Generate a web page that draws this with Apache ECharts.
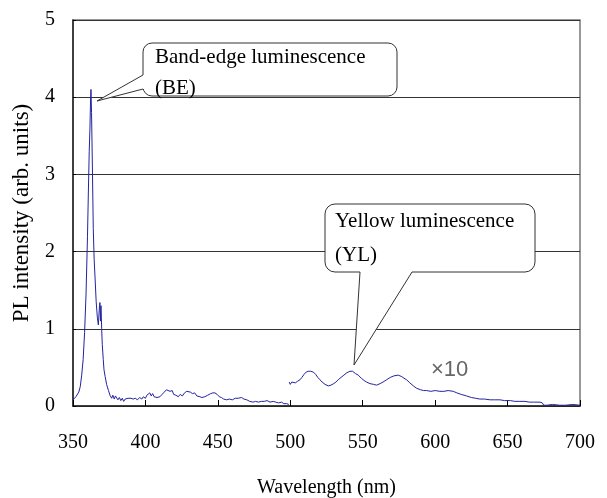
<!DOCTYPE html>
<html>
<head>
<meta charset="utf-8">
<script src="https://cdn.jsdelivr.net/npm/echarts@6/dist/echarts.min.js"></script>
<style>
html,body{margin:0;padding:0;background:#fff;}
#c{width:607px;height:498px;}
</style>
</head>
<body>
<div id="c"></div>
<script>
// Band-edge + defect region (as measured)
var wavelengthMain = [350,352,354,355,356,357,358,359,360,360.6,361.2,361.7,362.1,362.4,362.8,363.3,364,364.6,365.2,366,366.8,367.5,368,368.3,368.6,369,369.3,369.8,370.2,370.9,371.4,372.2,373.2,374.5,375.5,376.7,377.5,378.5,379.3,380.1,381,382,383,384,385,386,387,388,389,390,391.6,393,394.5,396,397.5,398.5,400,401,402,403,404,405,406,407,408,410,411.5,413,414.5,415.8,417,418.5,419.5,421,422.7,424,425.5,427,428.5,429.6,431,432.5,434,435.5,437.6,439,441,443,445,446.5,448,449.5,451,452.5,454,456,458,460,462,464,466.4,468,470,472,474.4,476,478,480,482,484,486,488.2,490,492,494,495.5,497.5,499];
var intensityMain = [0.08,0.12,0.18,0.25,0.4,0.6,0.95,1.45,2.2,2.76,3.3,3.6,3.95,4.1,3.8,3.2,2.3,1.9,1.67,1.35,1.15,1.05,1.07,1.3,1.34,1.1,1.3,1.0,0.8,0.6,0.47,0.38,0.28,0.2,0.14,0.1,0.14,0.09,0.13,0.12,0.08,0.11,0.07,0.1,0.06,0.09,0.07,0.1,0.08,0.1,0.09,0.1,0.08,0.11,0.09,0.12,0.1,0.14,0.12,0.17,0.13,0.16,0.12,0.14,0.11,0.12,0.15,0.18,0.21,0.23,0.19,0.2,0.15,0.14,0.12,0.15,0.13,0.17,0.19,0.2,0.18,0.16,0.17,0.13,0.12,0.11,0.12,0.14,0.16,0.17,0.17,0.15,0.12,0.11,0.09,0.08,0.09,0.08,0.1,0.1,0.11,0.09,0.08,0.06,0.05,0.06,0.05,0.06,0.06,0.07,0.05,0.06,0.05,0.04,0.05,0.03,0.03,0.02];

// Yellow luminescence region, shown x10
var wavelengthYL = [499.3,500,501,502,503.5,505,506.7,508,509.5,511,512.4,514,515.9,517.5,519,520.5,522,524,526.2,528,530,531.5,533.1,535,537,539,541.2,543,545,546.9,549,551,552.7,555,557.5,559.6,562,564,566.5,569,571.5,574.5,577,578.5,580.3,582.5,585,587.2,590,592,594.1,597,600,603.3,606,609,612.5,615,618,621.7,625,628,630.9,634,638,641,644.7,648,652,655,658.5,662,665,668,672.4,674,675,677,681,686,690,695,700];
var intensityYL = [0.31,0.28,0.31,0.29,0.3,0.32,0.34,0.37,0.41,0.44,0.45,0.45,0.44,0.41,0.37,0.34,0.31,0.28,0.26,0.27,0.29,0.31,0.34,0.37,0.4,0.43,0.45,0.45,0.42,0.4,0.36,0.33,0.31,0.29,0.28,0.27,0.29,0.31,0.34,0.37,0.39,0.4,0.38,0.36,0.34,0.3,0.26,0.23,0.21,0.2,0.2,0.19,0.2,0.19,0.19,0.2,0.19,0.17,0.15,0.13,0.11,0.1,0.09,0.09,0.08,0.08,0.08,0.07,0.07,0.06,0.06,0.06,0.05,0.05,0.05,0.04,0.01,0.01,0.02,0.01,0.01,0.02,0.01];

var xTicks = [350,400,450,500,550,600,650,700];
var yTicks = [0,1,2,3,4,5];

function pairs(xs, ys){ return xs.map(function(x,i){ return [x, ys[i]]; }); }

var serif = "'Liberation Serif','Times New Roman',serif";
var calloutFont = "21px 'Liberation Serif'";
var chart = echarts.init(document.getElementById('c'));
chart.setOption({
  animation: false,
  backgroundColor: '#fff',
  grid: {left: 73, right: 27, top: 20, bottom: 92, containLabel: false, outerBoundsMode: 'none',
         show: true, borderColor: '#777', borderWidth: 1.5},
  xAxis: {
    type: 'value', min: xTicks[0], max: xTicks[xTicks.length-1], interval: 50,
    name: 'Wavelength (nm)', nameLocation: 'middle', nameGap: 72,
    nameTextStyle: {fontFamily: serif, fontSize: 20, color: '#000'},
    axisLine: {show: true, lineStyle: {color: '#222', width: 1.5}},
    axisTick: {show: true, inside: true, length: 6, lineStyle: {color: '#000'}},
    axisLabel: {fontFamily: serif, fontSize: 20, color: '#000', margin: 27},
    splitLine: {show: false}
  },
  yAxis: {
    type: 'value', min: yTicks[0], max: yTicks[yTicks.length-1], interval: 1,
    name: 'PL intensity (arb. units)', nameLocation: 'middle', nameGap: 40,
    nameTextStyle: {fontFamily: serif, fontSize: 23, color: '#000'},
    axisLine: {show: true, lineStyle: {color: '#222', width: 1.5}},
    axisTick: {show: true, inside: true, length: 3, lineStyle: {color: '#000'}},
    axisLabel: {fontFamily: serif, fontSize: 20, color: '#000', margin: 18},
    splitLine: {show: true, lineStyle: {color: '#333', width: 1}}
  },
  series: [
    {type: 'line', data: pairs(wavelengthMain, intensityMain), showSymbol: false, symbol: 'none',
     lineStyle: {color: '#2323a0', width: 1}, z: 3},
    {type: 'line', data: pairs(wavelengthYL, intensityYL), showSymbol: false, symbol: 'none',
     lineStyle: {color: '#2323a0', width: 1}, z: 3}
  ],
  graphic: [
    // Band-edge callout
    {type: 'rect', z: 20, shape: {x: 143, y: 43, width: 254, height: 53, r: 9},
     style: {fill: '#fff', stroke: '#333', lineWidth: 1}},
    {type: 'polygon', z: 21, shape: {points: [[143,75],[97,101],[143,89],[146,89],[146,75]]},
     style: {fill: '#fff', stroke: null}},
    {type: 'polyline', z: 22, shape: {points: [[143,75],[97,101],[143,89]]},
     style: {fill: null, stroke: '#333', lineWidth: 1}},
    {type: 'text', z: 23, left: 155, top: 47,
     style: {text: 'Band-edge luminescence', font: calloutFont, fill: '#000'}},
    {type: 'text', z: 23, left: 155, top: 78,
     style: {text: '(BE)', font: calloutFont, fill: '#000'}},
    // Yellow luminescence callout
    {type: 'rect', z: 20, shape: {x: 325, y: 204, width: 210, height: 68, r: 10},
     style: {fill: '#fff', stroke: '#333', lineWidth: 1}},
    {type: 'polygon', z: 21, shape: {points: [[360,272],[354,365],[412,272],[412,269],[360,269]]},
     style: {fill: '#fff', stroke: null}},
    {type: 'polyline', z: 22, shape: {points: [[360,272],[354,365],[412,272]]},
     style: {fill: null, stroke: '#333', lineWidth: 1}},
    {type: 'text', z: 23, left: 335, top: 211,
     style: {text: 'Yellow luminescence', font: calloutFont, fill: '#000'}},
    {type: 'text', z: 23, left: 335, top: 245,
     style: {text: '(YL)', font: calloutFont, fill: '#000'}},
    {type: 'text', z: 23, left: 431, top: 359,
     style: {text: '×10', font: "22px 'Liberation Sans'", fill: '#666'}}
  ]
});
</script>
</body>
</html>
